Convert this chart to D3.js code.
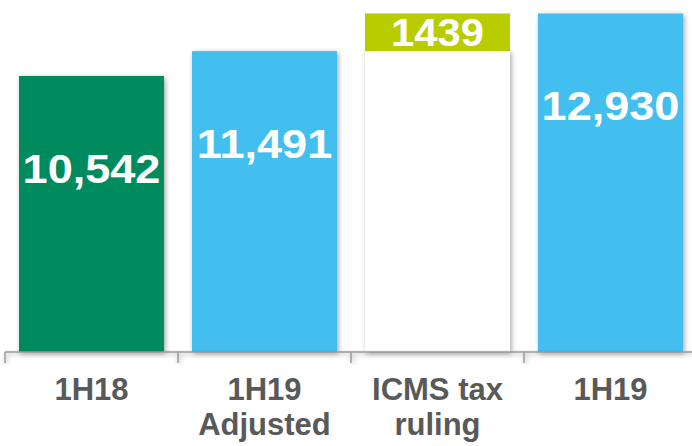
<!doctype html>
<html>
<head>
<meta charset="utf-8">
<title>1H18 vs 1H19</title>
<style>
  body { margin: 0; background: #fff; }
  svg { display: block; font-family: "Liberation Sans", Arial, sans-serif; }
</style>
</head>
<body>
<div id="chart"></div>
<script src="https://d3js.org/d3.v7.min.js"></script>
<script>
// chart data
var categories = ["1H18", "1H19\nAdjusted", "ICMS tax\nruling", "1H19"];
var bases = [0, 0, 11491, 0];
var values = [10542, 11491, 1439, 12930];
var labels = ["10,542", "11,491", "1439", "12,930"];
var colors = ["#028b5f", "#42bfef", "#b9cc00", "#42bfef"];

var width = 692, height = 446;
var baseY = 352;

var svg = d3.select("#chart").append("svg")
    .attr("width", width)
    .attr("height", height);

var defs = svg.append("defs");
var f = defs.append("filter").attr("id", "shadow")
    .attr("x", "-10%").attr("y", "-10%").attr("width", "120%").attr("height", "120%");
f.append("feDropShadow")
    .attr("dx", 1.5).attr("dy", 1.5)
    .attr("stdDeviation", 2.5)
    .attr("flood-color", "#000")
    .attr("flood-opacity", 0.35);

var x = d3.scaleBand()
    .domain(categories)
    .range([5, 697])
    .paddingInner(0.162)
    .paddingOuter(0.081);

var y = d3.scaleLinear()
    .domain([0, 13445])
    .range([baseY, 0]);

// white base under the waterfall step
svg.append("g").selectAll("rect.base")
    .data(categories.filter(function(d, i) { return bases[i] > 0; }))
    .enter().append("rect")
    .attr("class", "base")
    .attr("x", function(d) { return x(d); })
    .attr("width", x.bandwidth())
    .attr("y", function(d) { return y(bases[categories.indexOf(d)]); })
    .attr("height", function(d) { return baseY - y(bases[categories.indexOf(d)]); })
    .attr("fill", "#fff")
    .attr("filter", "url(#shadow)");

// bars
svg.append("g").selectAll("rect.bar")
    .data(categories)
    .enter().append("rect")
    .attr("class", "bar")
    .attr("x", function(d) { return x(d); })
    .attr("width", x.bandwidth())
    .attr("y", function(d, i) { return y(bases[i] + values[i]); })
    .attr("height", function(d, i) { return y(bases[i]) - y(bases[i] + values[i]); })
    .attr("fill", function(d, i) { return colors[i]; })
    .attr("filter", function(d, i) { return bases[i] > 0 ? null : "url(#shadow)"; });

// axis line + ticks
var axis = svg.append("g").attr("filter", "url(#shadow)");
axis.append("line")
    .attr("x1", x.range()[0]).attr("x2", width)
    .attr("y1", baseY).attr("y2", baseY)
    .attr("stroke", "#9a9a9a").attr("stroke-width", 1.5);
axis.selectAll("line.tick")
    .data(d3.range(categories.length))
    .enter().append("line")
    .attr("class", "tick")
    .attr("x1", function(i) { return x.range()[0] + i * x.step(); })
    .attr("x2", function(i) { return x.range()[0] + i * x.step(); })
    .attr("y1", baseY).attr("y2", baseY + 11)
    .attr("stroke", "#9a9a9a").attr("stroke-width", 1.5);

// value labels
svg.append("g").selectAll("text")
    .data(categories)
    .enter().append("text")
    .attr("transform", function(d, i) {
        var cx = x(d) + x.bandwidth() / 2;
        var ty;
        if (bases[i] > 0) {
            ty = (y(bases[i]) + y(bases[i] + values[i])) / 2 + 14;
        } else {
            ty = y(values[i]) + 107;
        }
        return "translate(" + cx + "," + ty + ") scale(1.1,1)";
    })
    .attr("text-anchor", "middle")
    .attr("font-weight", "bold")
    .attr("font-size", function(d, i) { return bases[i] > 0 ? 38 : 41; })
    .attr("fill", "#fff")
    .text(function(d, i) { return labels[i]; });

// category labels
var cat = svg.append("g").selectAll("text")
    .data(categories)
    .enter().append("text")
    .attr("x", function(d) { return x(d) + x.bandwidth() / 2; })
    .attr("y", 400)
    .attr("text-anchor", "middle")
    .attr("font-weight", "bold")
    .attr("font-size", 31)
    .attr("fill", "#595959");
cat.each(function(d) {
    var t = d3.select(this);
    d.split("\n").forEach(function(line, j) {
        t.append("tspan")
            .attr("x", x(d) + x.bandwidth() / 2)
            .attr("dy", j === 0 ? 0 : 35)
            .text(line);
    });
});
</script>
</body>
</html>
